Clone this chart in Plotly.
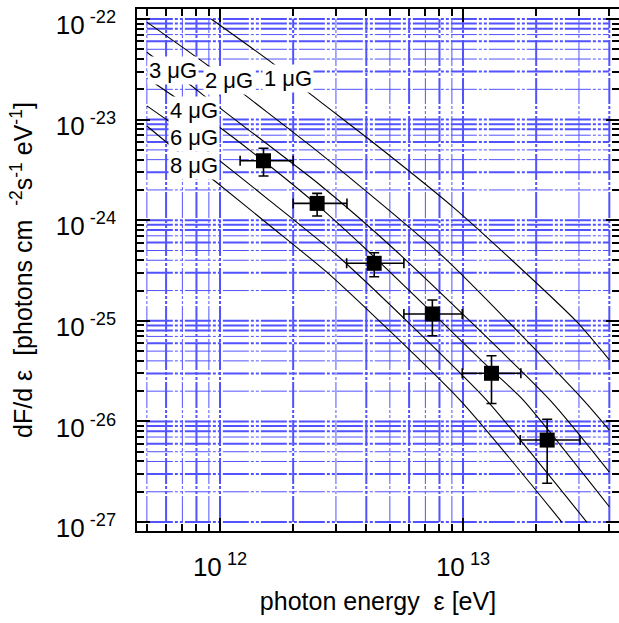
import numpy as np
import plotly.graph_objects as go

# ---------------- data ----------------
# model curves (photon energy [eV], dF/dE)
E_1uG = [9.2e11, 1.68e12, 2.35e12, 4.03e12, 9.1e12, 1.59e13, 2.95e13, 4.0e13]
F_1uG = [1.0e-22, 3.5e-23, 1.8e-23, 6.6e-24, 1.35e-24, 4.0e-25, 9.7e-26, 4.1e-26]

E_2uG = [5.0e11, 9.0e11, 1.25e12, 2.58e12, 8.57e12, 3.13e13, 4.0e13]
F_2uG = [9.3e-23, 3.39e-23, 1.8e-23, 4.62e-24, 4.02e-25, 1.63e-26, 8.2e-27]

E_3uG = [5.0e11, 7.31e11, 9.88e11, 2.58e12, 5.25e12, 2.28e13, 4.0e13]
F_3uG = [4.67e-23, 2.35e-23, 1.33e-23, 2.24e-24, 5.06e-25, 1.63e-26, 3.14e-27]

E_4uG = [5.0e11, 6.24e11, 9.54e11, 1.51e12, 2.51e12, 4.02e12, 7.48e12, 1.31e13, 1.77e13, 4.0e13]
F_4uG = [2.59e-23, 1.8e-23, 9.04e-24, 3.88e-24, 1.42e-24, 5.06e-25, 1.2e-25, 3.24e-26, 1.63e-26, 1.42e-27]

E_6uG = [5.0e11, 6.24e11, 9.09e11, 1.61e12, 3.02e12, 6.05e12, 1.25e13, 3.23e13]
F_6uG = [1.37e-23, 9.4e-24, 4.66e-24, 1.55e-24, 4.51e-25, 9.29e-26, 1.63e-26, 1.0e-27]

E_8uG = [5.0e11, 6.98e11, 9.63e11, 1.61e12, 2.84e12, 9.72e12, 2.55e13]
F_8uG = [8.64e-24, 4.45e-24, 2.4e-24, 8.76e-25, 2.85e-25, 1.63e-26, 1.0e-27]

curve_names = ["1 μG", "2 μG", "3 μG", "4 μG", "6 μG", "8 μG"]
curve_E = [E_1uG, E_2uG, E_3uG, E_4uG, E_6uG, E_8uG]
curve_F = [F_1uG, F_2uG, F_3uG, F_4uG, F_6uG, F_8uG]

# label anchor points (energy, flux)
label_E = [1.905e12, 1.094e12, 6.375e11, 7.85e11, 7.80e11, 7.80e11]
label_F = [2.54e-23, 2.44e-23, 3.11e-23, 1.225e-23, 6.67e-24, 3.48e-24]

# measured data points
obs_E = [1.51e12, 2.51e12, 4.31e12, 7.48e12, 1.31e13, 2.22e13]
obs_E_lo = [1.21e12, 2.0e12, 3.32e12, 5.71e12, 9.93e12, 1.72e13]
obs_E_hi = [2.0e12, 3.33e12, 5.71e12, 9.93e12, 1.73e13, 3.03e13]
obs_F = [3.9e-24, 1.47e-24, 3.73e-25, 1.17e-25, 3.01e-26, 6.53e-27]
obs_F_lo = [2.75e-24, 1.10e-24, 2.74e-25, 7.11e-26, 1.51e-26, 2.43e-27]
obs_F_hi = [5.19e-24, 1.85e-24, 4.75e-25, 1.61e-25, 4.5e-26, 1.05e-26]

# ticks
x_major = [1e12, 1e13]
x_major_text = ["10<sup>\u00a012</sup>", "10<sup>\u00a013</sup>"]
y_major = [1e-27, 1e-26, 1e-25, 1e-24, 1e-23, 1e-22]
y_major_text = ["10<sup>\u00a0-27</sup>", "10<sup>\u00a0-26</sup>", "10<sup>\u00a0-25</sup>",
                "10<sup>\u00a0-24</sup>", "10<sup>\u00a0-23</sup>", "10<sup>\u00a0-22</sup>"]

# grid extents
grid_xmin, grid_xmax = 5e11, 4e13
grid_ymin, grid_ymax = 1e-27, 1e-22

# ---------------- derived ticks ----------------
x_ticks = []
for dec in [11, 12, 13]:
    for d in range(1, 10):
        v = d * 10.0 ** dec
        if grid_xmin * 0.999 <= v <= grid_xmax * 1.001:
            x_ticks.append(v)
y_ticks = []
for dec in range(-27, -22):
    for d in range(1, 10):
        y_ticks.append(d * 10.0 ** dec)
y_ticks.append(1e-22)

x_minor = [v for v in x_ticks if v not in x_major]
y_minor = [v for v in y_ticks if min(abs(np.log10(v) - np.log10(m)) for m in y_major) > 1e-6]

# line weight pattern for grid (thick = True)
thick_x_digit = {1: True, 2: True, 3: False, 4: True, 5: False, 6: True, 7: False, 8: True, 9: False}
thick_y_digit = {1: True, 2: False, 3: True, 4: False, 5: False, 6: True, 7: False, 8: True, 9: True}

def lead_digit(v):
    return int(round(v / 10.0 ** np.floor(np.log10(v) + 1e-9)))

fig = go.Figure()

GRID_COLOR = "#5252ff"
for thick in [False, True]:
    gx, gy = [], []
    for v in x_ticks:
        if thick_x_digit[lead_digit(v)] == thick:
            gx += [v, v, None]
            gy += [grid_ymin, grid_ymax, None]
    for v in y_ticks:
        if thick_y_digit[lead_digit(v)] == thick:
            gx += [grid_xmin, grid_xmax, None]
            gy += [v, v, None]
    fig.add_trace(go.Scatter(
        x=gx, y=gy, mode="lines", hoverinfo="skip",
        line=dict(color=GRID_COLOR, width=2 if thick else 1,
                  dash="26px,2px,3px,2px,3px,2px"),
    ))

for name, E, F in zip(curve_names, curve_E, curve_F):
    fig.add_trace(go.Scatter(
        x=E, y=F, mode="lines", name=name,
        line=dict(color="black", width=1.1, shape="spline", smoothing=0.6),
    ))

fig.add_trace(go.Scatter(
    x=obs_E, y=obs_F, mode="markers",
    marker=dict(symbol="square", size=15, color="black"),
    error_x=dict(type="data", symmetric=False,
                 array=[h - e for h, e in zip(obs_E_hi, obs_E)],
                 arrayminus=[e - l for e, l in zip(obs_E, obs_E_lo)],
                 color="black", thickness=1.6, width=5),
    error_y=dict(type="data", symmetric=False,
                 array=[h - f for h, f in zip(obs_F_hi, obs_F)],
                 arrayminus=[f - l for f, l in zip(obs_F, obs_F_lo)],
                 color="black", thickness=1.6, width=5),
))

for name, le, lf in zip(curve_names, label_E, label_F):
    fig.add_annotation(
        x=np.log10(le), y=np.log10(lf), xref="x", yref="y",
        text=name, showarrow=False, bgcolor="white", borderpad=1,
        font=dict(size=22, color="black"),
    )

FONT = "Liberation Sans, Arial, sans-serif"
fig.update_layout(
    width=619, height=623,
    margin=dict(l=137, r=0, t=9, b=92, autoexpand=False),
    paper_bgcolor="white", plot_bgcolor="white",
    showlegend=False,
    font=dict(family=FONT, color="black"),
)
fig.update_xaxes(
    type="log", range=[11.6584, 13.6419], automargin=False,
    showgrid=False, zeroline=False,
    showline=True, linecolor="black", linewidth=1.5, mirror="ticks",
    ticks="inside", ticklen=13, tickwidth=1.5, tickcolor="black",
    tickmode="array", tickvals=x_major, ticktext=x_major_text,
    tickfont=dict(size=26), ticklabelstandoff=12,
    minor=dict(ticks="inside", ticklen=7, tickwidth=1.5, tickcolor="black",
               tickmode="array", tickvals=x_minor, showgrid=False),
    title=dict(text="photon energy\u00a0\u00a0ε [eV]", font=dict(size=25), standoff=12),
)
fig.update_yaxes(
    type="log", range=[-27.0889, -21.9006], automargin=False,
    showgrid=False, zeroline=False,
    showline=True, linecolor="black", linewidth=1.5, mirror="ticks",
    ticks="inside", ticklen=13, tickwidth=1.5, tickcolor="black",
    tickmode="array", tickvals=y_major, ticktext=y_major_text,
    tickfont=dict(size=26), ticklabelstandoff=14, ticklabelshift=6,
    ticklabeloverflow="allow",
    minor=dict(ticks="inside", ticklen=7, tickwidth=1.5, tickcolor="black",
               tickmode="array", tickvals=y_minor, showgrid=False),
    title=dict(text="dF/d\u00a0ε\u00a0\u00a0[photons cm\u00a0\u00a0<sup>-2</sup>s<sup>-1</sup> eV<sup>-1</sup>]",
               font=dict(size=25), standoff=16),
)

fig.write_html("out.html", config={"displayModeBar": False},
               post_script="document.body.style.margin='0';document.body.style.overflow='hidden';")
